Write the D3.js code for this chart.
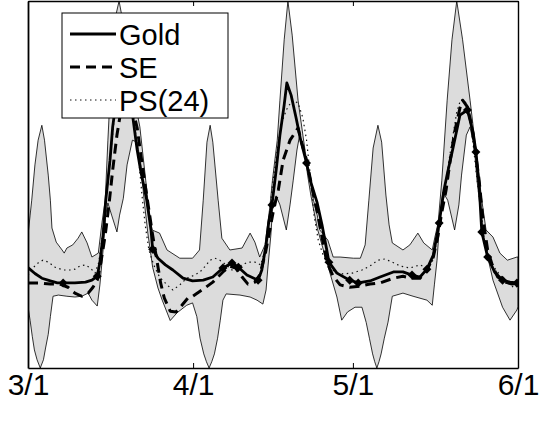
<!DOCTYPE html>
<html>
<head>
<meta charset="utf-8">
<script src="https://cdn.jsdelivr.net/npm/d3@7"></script>
<style>
  html, body { margin: 0; padding: 0; background: #fff; }
  svg { display: block; }
  text { font-family: "Liberation Sans", Arial, sans-serif; fill: #000; }
</style>
</head>
<body>
<svg id="chart" width="548" height="425"></svg>
<script>
// Days counted from 3/1; values in relative load units.
const tickDays = [0, 31, 61, 92];
const tickLabels = ["3/1", "4/1", "5/1", "6/1"];
const seriesNames = ["Gold", "SE", "PS(24)"];

// Upper edge of the forecast interval
const bandUpper = [
  [0.0,40.3],[0.4,45.4],[0.7,49.2],[1.3,58.2],[1.9,64.5],[2.6,68.3],[3.1,64.5],[3.8,55.6],[4.2,49.2],[4.5,42.1],
  [5.3,38.5],[6.4,36.5],[6.8,35.7],[7.3,37.0],[8.4,37.8],[9.4,39.5],[10.1,41.1],[11.1,38.3],[12.0,34.7],[13.2,35.7],
  [13.9,43.6],[14.5,49.2],[15.0,64.5],[15.7,83.7],[16.5,96.4],[17.1,100],[18.3,91.3],[19.6,77.8],[21.0,67.9],
  [22.1,54.3],[22.7,46.7],[23.3,41.6],[24.7,40.8],[26.1,36.5],[28.5,34.4],[30.9,34.4],[32.2,36.5],[32.9,49.2],
  [33.6,64.0],[34.2,68.3],[34.7,64.0],[35.7,49.2],[36.4,39.5],[37.9,36.5],[40.2,37.0],[41.7,40.8],[42.6,38.5],
  [43.5,34.7],[44.5,37.8],[45.4,47.4],[45.9,54.3],[46.8,64.5],[47.3,74.7],[48.1,90.1],[48.8,100],[49.6,91.3],
  [50.7,74.7],[52.0,62.0],[53.6,49.2],[54.3,45.4],[54.8,41.6],[56.3,39.0],[57.3,34.7],[58.6,34.7],[61.1,34.4],
  [62.4,34.4],[63.3,37.8],[64.0,49.2],[64.8,62.5],[65.7,68.3],[66.4,64.0],[67.2,50.5],[67.8,42.9],[68.4,38.3],
  [70.4,36.5],[71.7,37.8],[73.2,40.8],[74.3,38.3],[75.9,36.5],[76.4,39.8],[77.0,43.4],[77.7,54.3],[78.7,74.7],
  [79.6,90.1],[80.5,100],[81.6,90.1],[83.0,74.7],[84.1,62.0],[85.2,49.2],[86.0,41.6],[87.3,39.8],[88.6,35.7],
  [90.0,33.9],[91.8,34.7],[92.0,34.7]
];

// Lower edge of the forecast interval
const bandLower = [
  [0.0,22.0],[0.4,18.5],[0.8,14.5],[1.2,11.0],[1.7,8.5],[2.3,6.4],[2.9,8.5],[3.3,11.5],[3.8,15.0],[4.2,19.5],[4.7,24.7],
  [5.7,25.0],[7.3,24.7],[8.8,24.5],[10.1,24.7],[11.3,25.5],[12.0,23.7],[13.0,22.2],[13.5,27.6],[14.1,36.5],
  [14.6,45.4],[15.0,48.5],[15.7,45.4],[16.7,41.1],[17.2,45.4],[17.9,49.7],[18.6,58.2],[19.6,64.5],[20.5,64.0],
  [21.2,58.2],[21.8,49.2],[22.5,40.8],[23.4,32.1],[24.4,26.8],[25.2,23.7],[26.7,18.5],[28.0,20.5],[29.8,22.4],
  [30.9,23.0],[31.7,19.5],[32.3,14.0],[33.0,10.0],[33.5,8.0],[34.0,6.4],[34.5,8.0],[35.0,10.0],[35.6,14.0],
  [36.1,18.6],[36.6,23.7],[37.2,25.3],[39.8,25.0],[41.7,24.5],[43.0,23.7],[44.1,22.7],[44.7,26.3],[45.0,31.4],
  [45.6,40.3],[45.9,46.7],[46.6,50.3],[47.3,48.0],[48.5,41.6],[49.2,48.0],[49.8,54.3],[50.5,62.0],[51.0,65.8],
  [51.8,62.5],[52.5,55.6],[53.1,50.5],[54.3,42.1],[56.1,33.4],[58.0,24.5],[58.9,18.6],[60.0,20.7],[61.4,21.9],
  [62.7,21.9],[63.5,18.0],[64.1,14.0],[64.7,10.0],[65.1,8.0],[65.5,6.4],[65.9,8.0],[66.3,10.0],[66.9,14.0],
  [67.6,18.1],[68.4,24.7],[70.4,25.5],[72.3,24.7],[74.9,23.7],[75.9,22.4],[76.3,27.6],[76.8,33.9],[77.4,45.9],
  [77.9,51.3],[78.8,49.2],[80.1,41.6],[80.9,48.0],[81.4,55.6],[82.3,65.8],[83.0,67.9],[83.8,62.5],[84.3,54.3],
  [84.9,47.2],[85.6,39.0],[87.3,28.8],[89.1,21.9],[90.5,18.6],[91.8,21.2],[92.0,22.0]
];

// Observed (gold standard) series
const gold = [
  [0.0,32.0],[1.3,30.5],[2.6,29.3],[4.2,28.6],[5.5,28.1],[6.6,28.1],[8.8,28.1],[10.8,28.3],[12.0,28.8],[13.0,29.8],
  [13.5,33.4],[14.1,40.3],[14.6,49.2],[15.4,59.4],[15.9,67.9],[16.7,76.0],[17.4,81.9],[18.3,81.9],[19.0,77.3],
  [19.7,70.2],[20.5,62.0],[21.2,56.4],[22.3,49.2],[23.1,41.6],[23.4,36.7],[24.4,34.4],[25.8,32.7],[27.2,31.4],
  [29.1,29.3],[30.9,28.6],[32.9,28.8],[34.7,29.6],[36.6,31.9],[38.3,33.2],[39.5,32.1],[41.1,30.1],[43.2,28.8],
  [43.9,31.4],[44.7,37.8],[45.2,43.6],[45.8,48.0],[46.6,56.9],[47.3,65.8],[48.1,73.5],[48.6,79.1],[49.4,76.0],
  [50.3,70.4],[51.2,64.5],[52.3,58.7],[53.1,53.8],[54.3,48.5],[55.2,42.9],[56.1,36.5],[56.5,33.4],[58.0,30.6],
  [60.4,28.8],[62.0,28.1],[64.2,28.6],[66.1,29.6],[68.6,30.9],[70.4,30.9],[72.1,30.1],[73.6,29.6],[74.9,31.6],
  [76.1,35.2],[77.2,43.4],[78.1,51.8],[78.8,56.4],[79.8,62.5],[81.1,70.9],[82.5,72.2],[83.6,66.3],[84.1,61.5],
  [84.7,53.1],[85.2,41.1],[86.3,34.7],[87.6,30.9],[89.1,28.8],[90.5,28.3],[91.8,28.1],[92.0,28.5]
];
// Days on the gold series that carry a diamond marker
const goldMarkDays = [6.6, 13.0, 23.4, 36.6, 38.3, 39.5, 43.2, 45.8, 52.3, 56.5, 60.4, 62.0,
                      72.1, 74.9, 77.2, 82.5, 84.1, 85.2, 86.3, 89.1, 91.8];

// SE forecast
const se = [
  [0.0,28.1],[2.2,28.1],[4.2,27.8],[6.0,27.8],[7.5,27.0],[8.8,25.5],[10.1,24.7],[11.3,25.5],[12.2,27.0],[13.0,28.8],
  [13.7,33.4],[14.5,40.3],[15.2,48.0],[15.9,56.9],[16.7,65.8],[17.4,71.7],[18.3,74.7],[19.0,74.7],[19.7,72.2],
  [20.5,67.6],[21.2,60.7],[22.0,53.1],[22.7,46.7],[23.4,40.3],[24.2,33.9],[24.9,28.1],[25.6,24.2],[26.7,20.9],
  [27.8,20.7],[28.9,22.4],[30.0,24.2],[30.9,24.7],[32.9,26.5],[34.7,28.3],[36.6,30.9],[37.9,32.4],[39.0,31.9],
  [40.2,29.6],[41.3,27.8],[42.6,28.3],[43.5,30.1],[44.5,35.2],[45.4,41.6],[46.1,46.7],[47.0,51.8],[47.9,59.4],
  [49.2,64.5],[50.7,67.6],[51.4,63.8],[52.3,59.4],[53.3,52.6],[54.3,46.2],[55.2,39.8],[56.1,33.4],[57.3,29.8],
  [58.6,27.6],[60.4,27.0],[62.4,27.3],[64.2,27.8],[66.1,28.1],[68.6,29.3],[70.4,29.8],[72.1,29.3],[73.6,29.3],
  [74.9,31.4],[76.1,34.7],[77.0,40.3],[77.7,46.2],[78.5,51.8],[79.2,58.7],[80.1,66.6],[81.1,72.7],[81.6,74.7],
  [82.5,73.0],[83.2,68.9],[83.9,62.5],[84.7,54.3],[85.4,44.6],[86.3,36.5],[87.3,32.1],[88.2,29.6],[89.6,28.3],
  [90.9,27.8],[92.0,28.1]
];

// PS(24) forecast
const ps = [
  [0.0,30.1],[0.9,31.9],[1.9,33.2],[2.8,33.9],[3.8,33.4],[5.1,32.1],[6.6,31.4],[7.9,31.4],[8.8,31.6],[9.7,32.4],
  [10.8,32.7],[11.7,31.9],[12.6,30.6],[13.3,33.4],[14.1,41.6],[14.8,51.8],[15.6,62.0],[16.3,71.7],[17.0,77.8],
  [17.9,80.4],[18.6,79.3],[19.4,74.7],[20.1,67.6],[20.8,59.4],[21.4,50.5],[22.0,42.9],[22.7,36.5],[23.6,32.7],
  [24.7,29.6],[26.1,27.6],[27.2,26.3],[28.5,27.6],[29.8,29.3],[31.3,30.1],[32.3,30.9],[33.3,32.4],[34.2,33.9],
  [35.1,34.4],[36.0,33.9],[37.2,32.7],[38.3,31.4],[39.8,32.4],[41.3,33.4],[42.6,33.4],[43.7,32.7],[44.5,36.5],
  [45.2,44.1],[45.9,53.1],[46.8,62.0],[47.5,68.4],[48.5,72.2],[49.6,74.7],[50.7,74.0],[51.6,70.2],[52.3,64.5],
  [53.1,54.3],[53.7,45.4],[54.5,39.0],[55.4,35.2],[56.3,32.7],[57.6,30.9],[59.1,30.4],[60.9,30.6],[62.7,31.4],
  [64.2,32.4],[65.7,33.9],[67.0,34.2],[68.4,33.4],[69.9,32.4],[71.7,31.9],[73.6,32.7],[74.9,31.9],[75.9,33.4],
  [76.8,39.0],[77.5,45.4],[78.3,51.8],[79.0,58.9],[79.8,65.8],[80.5,71.7],[81.2,74.7],[82.0,74.7],[82.8,71.7],
  [83.4,65.8],[84.1,56.9],[84.9,48.0],[85.6,40.3],[86.5,34.7],[87.6,31.9],[89.1,29.3],[90.5,27.6],[91.4,26.8],
  [92.0,27.5]
];

const svg = d3.select("#chart");
const plot = { left: 28, right: 518, top: 1, bottom: 368 };

const x = d3.scaleLinear().domain([0, 92]).range([plot.left, plot.right]);
const y = d3.scaleLinear().domain([6.4, 100]).range([plot.bottom, plot.top]);

svg.append("defs").append("clipPath").attr("id", "plotClip")
  .append("rect")
  .attr("x", plot.left).attr("y", plot.top)
  .attr("width", plot.right - plot.left).attr("height", plot.bottom - plot.top);

const line = d3.line().x(d => x(d[0])).y(d => y(d[1]));
const g = svg.append("g").attr("clip-path", "url(#plotClip)");

// Interval band: upper edge forward, lower edge back
g.append("path")
  .attr("d", line(bandUpper.concat(bandLower.slice().reverse())) + "Z")
  .attr("fill", "#dcdcdc")
  .attr("stroke", "#000")
  .attr("stroke-width", 0.8)
  .attr("stroke-linejoin", "round");

const styles = {
  "Gold":   { width: 2.8, dash: null,      color: "#000" },
  "SE":     { width: 3,   dash: "10,6",    color: "#000" },
  "PS(24)": { width: 1.2, dash: "1.5,3.5", color: "#111" }
};

function drawSeries(data, name) {
  const s = styles[name];
  g.append("path")
    .attr("d", line(data))
    .attr("fill", "none")
    .attr("stroke", s.color)
    .attr("stroke-width", s.width)
    .attr("stroke-dasharray", s.dash)
    .attr("stroke-linejoin", "round");
}
drawSeries(ps, "PS(24)");
drawSeries(se, "SE");
drawSeries(gold, "Gold");

// Diamond markers on the gold series
const diamond = d3.symbol().type(d3.symbolSquare).size(40);
const marked = gold.filter(d => goldMarkDays.includes(d[0]));
g.selectAll("path.mark").data(marked).join("path")
  .attr("class", "mark")
  .attr("d", diamond)
  .attr("transform", d => `translate(${x(d[0])},${y(d[1])}) rotate(45)`)
  .attr("fill", "#000");

// Frame and ticks
const axisStyle = sel => {
  sel.selectAll(".domain").attr("stroke", "#000").attr("stroke-width", 1.4);
  sel.selectAll(".tick line").attr("stroke", "#000").attr("stroke-width", 1);
};

const xBottom = d3.axisBottom(x).tickValues(tickDays)
  .tickFormat((d, i) => tickLabels[i])
  .tickSizeInner(-5).tickSizeOuter(0).tickPadding(6);
svg.append("g").attr("transform", `translate(0,${plot.bottom})`).call(xBottom)
  .call(axisStyle)
  .call(s => s.selectAll("text").style("font-size", "30px")
    .style("font-family", "'Liberation Sans', Arial, sans-serif"));

const xTop = d3.axisTop(x).tickValues(tickDays).tickFormat("")
  .tickSizeInner(-5).tickSizeOuter(0);
svg.append("g").attr("transform", `translate(0,${plot.top})`).call(xTop).call(axisStyle);

svg.append("g").attr("transform", `translate(${plot.left},0)`)
  .call(d3.axisLeft(y).tickValues([]).tickSizeOuter(0)).call(axisStyle)
  .call(s => s.select(".domain").attr("stroke-width", 1.8));
svg.append("g").attr("transform", `translate(${plot.right},0)`)
  .call(d3.axisRight(y).tickValues([]).tickSizeOuter(0)).call(axisStyle);

// Legend
const legend = svg.append("g").attr("transform", "translate(62,13)");
legend.append("rect")
  .attr("width", 166).attr("height", 105)
  .attr("fill", "#fff").attr("stroke", "#000").attr("stroke-width", 1);
seriesNames.forEach((name, i) => {
  const s = styles[name];
  const cy = 21 + i * 33;
  legend.append("line")
    .attr("x1", 8).attr("x2", 54).attr("y1", cy).attr("y2", cy)
    .attr("stroke", s.color).attr("stroke-width", s.width)
    .attr("stroke-dasharray", s.dash);
  legend.append("text")
    .attr("x", 57).attr("y", cy + 10.5)
    .style("font-size", "29px")
    .text(name);
});
</script>
</body>
</html>
